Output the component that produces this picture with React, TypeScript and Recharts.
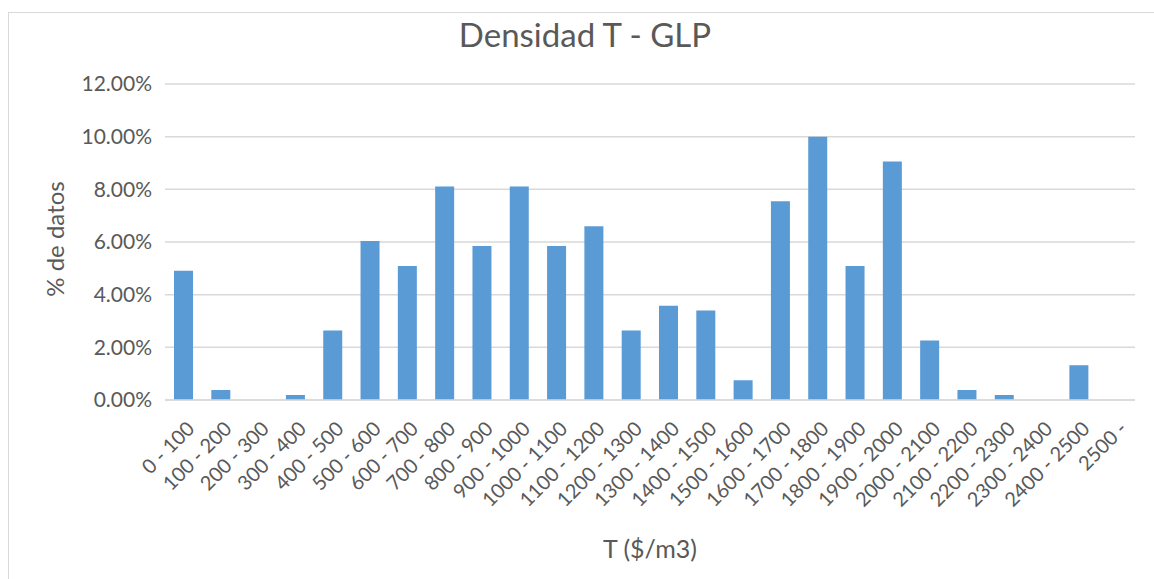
import { BarChart, Bar, XAxis, YAxis, CartesianGrid } from "recharts";

const categories = [
  "0 - 100", "100 - 200", "200 - 300", "300 - 400", "400 - 500", "500 - 600",
  "600 - 700", "700 - 800", "800 - 900", "900 - 1000", "1000 - 1100", "1100 - 1200",
  "1200 - 1300", "1300 - 1400", "1400 - 1500", "1500 - 1600", "1600 - 1700",
  "1700 - 1800", "1800 - 1900", "1900 - 2000", "2000 - 2100", "2100 - 2200",
  "2200 - 2300", "2300 - 2400", "2400 - 2500", "2500 -",
];

// % de datos por intervalo
const densidad = [
  4.91, 0.38, 0, 0.19, 2.64, 6.04, 5.09, 8.11, 5.85, 8.11, 5.85, 6.6, 2.64,
  3.58, 3.4, 0.75, 7.55, 10.0, 5.09, 9.06, 2.26, 0.38, 0.19, 0, 1.32, 0,
];

const yTicks = [0, 2, 4, 6, 8, 10, 12];

const data = categories.map((rango, i) => ({ rango, valor: densidad[i] }));

const FONT = "Lato, 'Open Sans', sans-serif";
const GRAY = "#595959";

const XTick = (props: any) => {
  const { x, y, payload } = props;
  return (
    <g transform={`translate(${x + 12},${y + 22})`}>
      <text textAnchor="end" transform="rotate(-45)" fill={GRAY} fontSize={20} fontFamily={FONT}>
        {payload.value}
      </text>
    </g>
  );
};

const App = () => {
  return (
    <div
      style={{
        position: "absolute",
        left: 8,
        top: 12,
        width: 1154,
        height: 580,
        border: "1px solid #d9d9d9",
        boxSizing: "border-box",
        background: "#fff",
      }}
    >
      <svg width={1152} height={578} style={{ position: "absolute", left: 0, top: 0 }}>
        <text x={576} y={34} textAnchor="middle" fontSize={33} fill={GRAY} fontFamily={FONT}>
          Densidad T - GLP
        </text>
        <text
          x={55}
          y={226}
          textAnchor="middle"
          fontSize={24}
          fill={GRAY}
          fontFamily={FONT}
          transform="rotate(-90, 55, 226)"
        >
          % de datos
        </text>
        <text x={641} y={545} textAnchor="middle" fontSize={25} fill={GRAY} fontFamily={FONT}>
          T ($/m3)
        </text>
      </svg>
      <div style={{ position: "absolute", left: 0, top: 0 }}>
        <BarChart
          width={1152}
          height={566}
          data={data}
          margin={{ top: 71, right: 26, left: 0, bottom: 0 }}
        >
          <CartesianGrid vertical={false} stroke="#d9d9d9" strokeWidth={1.5} />
          <XAxis
            dataKey="rango"
            interval={0}
            height={179}
            tickLine={false}
            axisLine={{ stroke: "#d9d9d9", strokeWidth: 1.5 }}
            tick={XTick}
          />
          <YAxis
            width={156}
            domain={[0, 12]}
            ticks={yTicks}
            tickFormatter={(v: number) => `${v.toFixed(2)}%`}
            tickLine={false}
            axisLine={false}
            tickMargin={7}
            tick={{ fill: GRAY, fontSize: 21, fontFamily: FONT }}
          />
          <Bar dataKey="valor" fill="#5b9bd5" barSize={19} isAnimationActive={false} />
        </BarChart>
      </div>
    </div>
  );
};

export default App;
